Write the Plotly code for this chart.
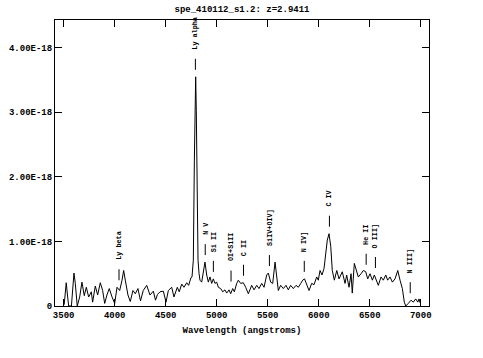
import numpy as np
import plotly.graph_objects as go

# ---------------- data ----------------
wavelength = [3505, 3525, 3539, 3549, 3576, 3601, 3614, 3633, 3657, 3679,
              3702, 3722, 3745, 3771, 3784, 3810, 3833, 3859, 3882, 3902,
              3924, 3947, 3974, 4000, 4023, 4049, 4072, 4088, 4104, 4130,
              4153, 4179, 4202, 4228, 4253, 4280, 4314, 4346, 4379, 4400,
              4420, 4444, 4477, 4503, 4526, 4559, 4581, 4614, 4633, 4657,
              4679, 4706, 4725, 4748, 4758, 4771, 4781, 4787, 4794, 4800,
              4804, 4810, 4817, 4827, 4836, 4853, 4869, 4885, 4902, 4918,
              4934, 4951, 4967, 4983, 5000, 5016, 5039, 5059, 5081, 5098,
              5121, 5137, 5157, 5173, 5196, 5212, 5235, 5261, 5284, 5310,
              5343, 5366, 5392, 5415, 5441, 5464, 5490, 5506, 5529, 5549,
              5572, 5588, 5604, 5627, 5653, 5679, 5702, 5725, 5751, 5778,
              5800, 5824, 5843, 5861, 5882, 5905, 5931, 5954, 5980, 5996,
              6013, 6032, 6052, 6069, 6084, 6101, 6118, 6133, 6153, 6177,
              6199, 6231, 6258, 6274, 6297, 6317, 6329, 6349, 6366, 6388,
              6415, 6437, 6461, 6480, 6503, 6526, 6545, 6569, 6584, 6611,
              6633, 6657, 6676, 6699, 6722, 6748, 6775, 6797, 6820, 6839,
              6853, 6878, 6905, 6927, 6951, 6971, 6983, 6993]
flux_e18 = [0.02, 0.36, 0.14, 0.00, 0.00, 0.51, 0.35, 0.00, 0.14, 0.37,
            0.16, 0.29, 0.14, 0.22, 0.06, 0.31, 0.17, 0.36, 0.24, 0.04,
            0.17, 0.27, 0.14, 0.04, 0.29, 0.24, 0.40, 0.55, 0.40, 0.17,
            0.07, 0.24, 0.19, 0.27, 0.08, 0.24, 0.32, 0.17, 0.23, 0.09,
            0.18, 0.22, 0.23, 0.06, 0.24, 0.29, 0.14, 0.29, 0.22, 0.34,
            0.29, 0.36, 0.32, 0.44, 0.45, 0.71, 2.26, 3.29, 3.55, 3.03,
            2.26, 1.33, 0.71, 0.50, 0.40, 0.37, 0.50, 0.68, 0.48, 0.37,
            0.45, 0.35, 0.42, 0.35, 0.37, 0.29, 0.27, 0.22, 0.25, 0.20,
            0.25, 0.19, 0.27, 0.22, 0.35, 0.40, 0.35, 0.36, 0.29, 0.19,
            0.32, 0.25, 0.32, 0.27, 0.35, 0.29, 0.48, 0.51, 0.37, 0.35,
            0.68, 0.45, 0.24, 0.32, 0.27, 0.32, 0.25, 0.32, 0.27, 0.32,
            0.29, 0.35, 0.40, 0.42, 0.32, 0.24, 0.35, 0.33, 0.45, 0.40,
            0.55, 0.48, 0.58, 0.81, 1.02, 1.12, 0.92, 0.55, 0.40, 0.55,
            0.42, 0.53, 0.35, 0.48, 0.29, 0.50, 0.20, 0.66, 0.58, 0.45,
            0.50, 0.55, 0.53, 0.42, 0.50, 0.40, 0.48, 0.37, 0.32, 0.45,
            0.40, 0.48, 0.40, 0.45, 0.37, 0.42, 0.55, 0.40, 0.27, 0.06,
            0.00, 0.04, 0.09, 0.06, 0.11, 0.06, 0.11, 0.05]

line_names = ["Ly beta", "Ly alpha", "N V", "Si II", "OI+SiII", "C II",
              "SiIV+OIV]", "N IV]", "C IV", "He II", "O III]", "N III]"]
line_rest = [1025.72, 1215.67, 1240.14, 1260.42, 1304.35, 1335.31,
             1399.8, 1486.5, 1549.06, 1640.42, 1663.48, 1750.0]
redshift = 2.9411

x_tick_vals = [3500, 4000, 4500, 5000, 5500, 6000, 6500, 7000]
y_tick_vals = [0, 1, 2, 3, 4]
y_tick_text = ["0", "1.00E-18", "2.00E-18", "3.00E-18", "4.00E-18"]

title_text = "spe_410112_s1.2: z=2.9411"
x_title = "Wavelength (angstroms)"

# ---------------- layout constants ----------------
W, H = 483, 358
ML, MR, MT, MB = 55, 54, 20, 52
SCALE = 1e-18
x_range = [3415, 7081]
y_range = [0, 4.43 * SCALE]
plot_h = H - MT - MB
px = (y_range[1] - y_range[0]) / plot_h   # data units per pixel

FONT = "Liberation Mono"

wl = np.array(wavelength, dtype=float)
fl = np.array(flux_e18, dtype=float) * SCALE

fig = go.Figure()
fig.add_trace(go.Scatter(x=wl, y=fl, mode="lines",
                         line=dict(color="black", width=1),
                         hoverinfo="skip", showlegend=False))

# line identifications: tick above local spectrum, rotated label above tick
for name, rest in zip(line_names, line_rest):
    obs = rest * (1 + redshift)
    mask = np.abs(wl - obs) <= 20
    local = fl[mask].max() if mask.any() else np.interp(obs, wl, fl)
    y0 = local + 7 * px
    y1 = y0 + 11 * px
    fig.add_shape(type="line", xref="x", yref="y", x0=obs, x1=obs,
                  y0=y0, y1=y1, line=dict(color="black", width=1))
    fig.add_annotation(x=obs, y=y1, xref="x", yref="y", text=name,
                       textangle=-90, showarrow=False, xanchor="center",
                       yanchor="bottom", yshift=8, borderpad=0,
                       font=dict(family=FONT, size=6.8, color="black",
                                 weight="bold"))

axis_common = dict(showline=True, linecolor="black", linewidth=1,
                   mirror="ticks", ticks="inside", ticklen=7,
                   tickcolor="black", tickwidth=1, showgrid=False,
                   zeroline=False, automargin=False,
                   tickfont=dict(family=FONT, size=9, color="black",
                                 weight="bold"))

fig.update_xaxes(range=x_range, tickvals=x_tick_vals,
                 ticktext=[str(v) for v in x_tick_vals],
                 title=dict(text=x_title, standoff=6,
                            font=dict(family=FONT, size=9, color="black",
                                      weight="bold")),
                 **axis_common)
fig.update_yaxes(range=y_range,
                 tickvals=[v * SCALE for v in y_tick_vals],
                 ticktext=y_tick_text, **axis_common)

fig.update_layout(
    width=W, height=H,
    margin=dict(l=ML, r=MR, t=MT, b=MB, pad=0, autoexpand=False),
    paper_bgcolor="white", plot_bgcolor="white",
    title=dict(text=title_text, x=0.5 * (ML + W - MR) / W, xanchor="center",
               y=1 - 8.5 / H, yanchor="middle",
               font=dict(family=FONT, size=9, color="black", weight="bold")),
    showlegend=False,
)

fig.write_html("out.html",
               config={"displayModeBar": False, "staticPlot": True},
               post_script="document.body.style.margin='0';"
                           "document.body.style.padding='0';")
